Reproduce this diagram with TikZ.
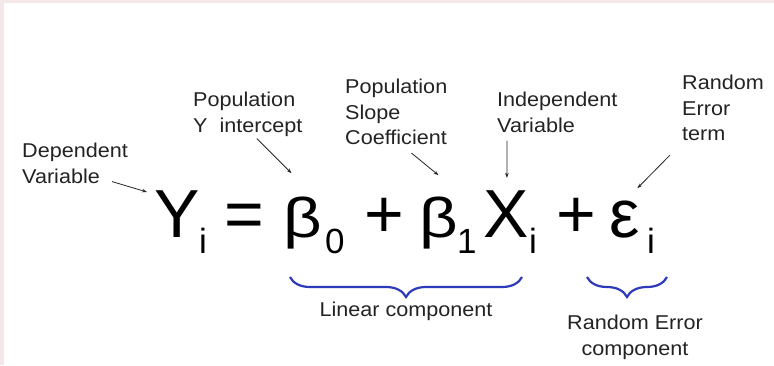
\documentclass[tikz,border=0pt]{standalone}
\usepackage{fontspec}
\setmainfont{Liberation Sans}
\newfontfamily\lblfont[FakeStretch=1.08]{Liberation Sans}
\newfontfamily\grkfont[FakeStretch=1.2]{Liberation Sans}
\usetikzlibrary{positioning,arrows.meta,decorations.pathreplacing}

\definecolor{edgepink}{RGB}{245,232,232}
\definecolor{braceblue}{RGB}{45,58,185}
\definecolor{lbltext}{RGB}{35,35,35}

\tikzset{
  lbl/.style={inner sep=0pt, align=left, anchor=north west, text=lbltext,
    font=\lblfont\fontsize{20}{25.5}\selectfont},
  big/.style={inner sep=0pt, anchor=base west, font=\fontsize{68}{68}\selectfont},
  grk/.style={inner sep=0pt, anchor=base west, font=\grkfont\fontsize{56}{56}\selectfont},
  sub/.style={inner sep=0pt, anchor=base west, font=\fontsize{35}{35}\selectfont},
  pointer/.style={-{Stealth[length=5pt,width=3.5pt]}, line width=0.8pt, draw=black!85},
  undbrace/.style={decorate, decoration={brace, mirror, amplitude=20pt},
    line width=2.2pt, draw=braceblue}
}

\begin{document}
\begin{tikzpicture}[x=1pt, y=-1pt]
    \useasboundingbox (0,0) rectangle (774,365);
    \fill[edgepink] (0,0) rectangle (774,365);
    \fill[white] (4,3) rectangle (774,365);

    % Equation
    \node[big] (Y) at (154,237) {Y};
    \node[sub] (Ysub) at (199,253) {i};
    \node[big] (eq) at (224,237) {=};
    \node[grk] (b0) at (283,237) {β};
    \node[sub] (b0sub) at (325,253) {0};
    \node[big] (plusA) at (364,237) {+};
    \node[grk] (b1) at (419,237) {β};
    \node[sub] (b1sub) at (457,253) {1};
    \node[big] (X) at (483,237) {X};
    \node[sub] (Xsub) at (529,253) {i};
    \node[big] (plusB) at (556,237) {+};
    \node[big] (eps) at (609,237) {ε};
    \node[sub] (epssub) at (647,253) {i};

    % Labels above
    \node[lbl] (dep) at (22,143) {Dependent\\Variable};
    \node[lbl] (yint) at (193,92) {Population\\Y\ \ intercept};
    \node[lbl] (slope) at (345,79) {Population\\Slope\\Coefficient};
    \node[lbl] (indep) at (497,92) {Independent\\Variable};
    \node[lbl] (err) at (682,75) {Random\\Error\\term};

    % Pointers
    \draw[pointer] ([shift={(-16,-2)}]dep.south east) -- ([shift={(-7,2)}]Y.north west);
    \draw[pointer] ([shift={(9,2)}]yint.south) -- ([shift={(-11,-23)}]b0.north);
    \draw[pointer] ([shift={(-36,8)}]slope.south east) -- ([shift={(0,-21)}]b1.north);
    \draw[pointer] ([shift={(10,8)}]indep.south west) -- ([shift={(1,-12)}]X.north);
    \draw[pointer] ([shift={(-12,14)}]err.south west) -- ([shift={(13,-12)}]eps.north);

    % Braces
    \draw[undbrace] (290,277) -- (522,277);
    \draw[undbrace] (587,277) -- (667,277);
    \node[lbl, anchor=north] (lin) at (406,302) {Linear component};
    \node[lbl, anchor=north, align=center] (rnd) at (635,315) {Random Error\\component};
\end{tikzpicture}
\end{document}
